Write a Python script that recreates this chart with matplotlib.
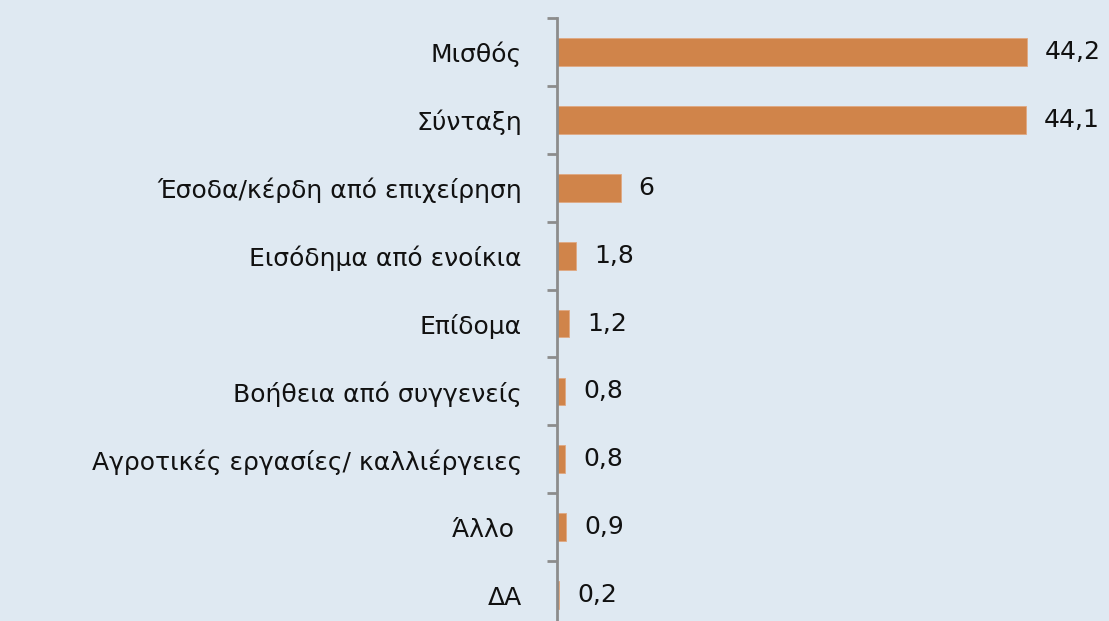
import matplotlib.pyplot as plt
import numpy as np

categories = [
    "Μισθός",
    "Σύνταξη",
    "Έσοδα/κέρδη από επιχείρηση",
    "Εισόδημα από ενοίκια",
    "Επίδομα",
    "Βοήθεια από συγγενείς",
    "Αγροτικές εργασίες/ καλλιέργειες",
    "Άλλο ",
    "ΔΑ",
]
values = [44.2, 44.1, 6, 1.8, 1.2, 0.8, 0.8, 0.9, 0.2]
value_labels = ["44,2", "44,1", "6", "1,8", "1,2", "0,8", "0,8", "0,9", "0,2"]

bg = "#dfe9f2"
bar_color = "#d0844a"
axis_color = "#8c8c8c"

plt.rcParams["font.family"] = ["DejaVu Sans"]

fig = plt.figure(figsize=(11.09, 6.21), dpi=100, facecolor=bg)
ax = fig.add_axes([0.502, -0.013, 0.498, 0.984])
ax.set_facecolor(bg)

y = np.arange(len(categories))
ax.barh(y, values, height=0.41, color=bar_color, edgecolor="#e0a882", linewidth=0.6)

ax.set_xlim(0, 51.9)
ax.set_ylim(len(categories) - 0.5, -0.5)

# value labels to the right of each bar
for yi, v, lab in zip(y, values, value_labels):
    ax.annotate(lab, (v, yi), xytext=(13, 0), textcoords="offset points",
                va="center", ha="left", fontsize=18, color="#111111")

for s in ["top", "right", "bottom"]:
    ax.spines[s].set_visible(False)
ax.spines["left"].set_color(axis_color)
ax.spines["left"].set_linewidth(2)

ax.set_xticks([])
ax.set_yticks(y)
ax.set_yticklabels(categories, fontsize=18, color="#111111")
ax.tick_params(axis="y", which="major", length=0, pad=25)
# tick marks sit between categories
ax.set_yticks(np.arange(-0.5, len(categories) + 0.5, 1), minor=True)
ax.tick_params(axis="y", which="minor", length=7, width=2, color=axis_color)

fig.savefig("out.png", dpi=100, facecolor=bg)
